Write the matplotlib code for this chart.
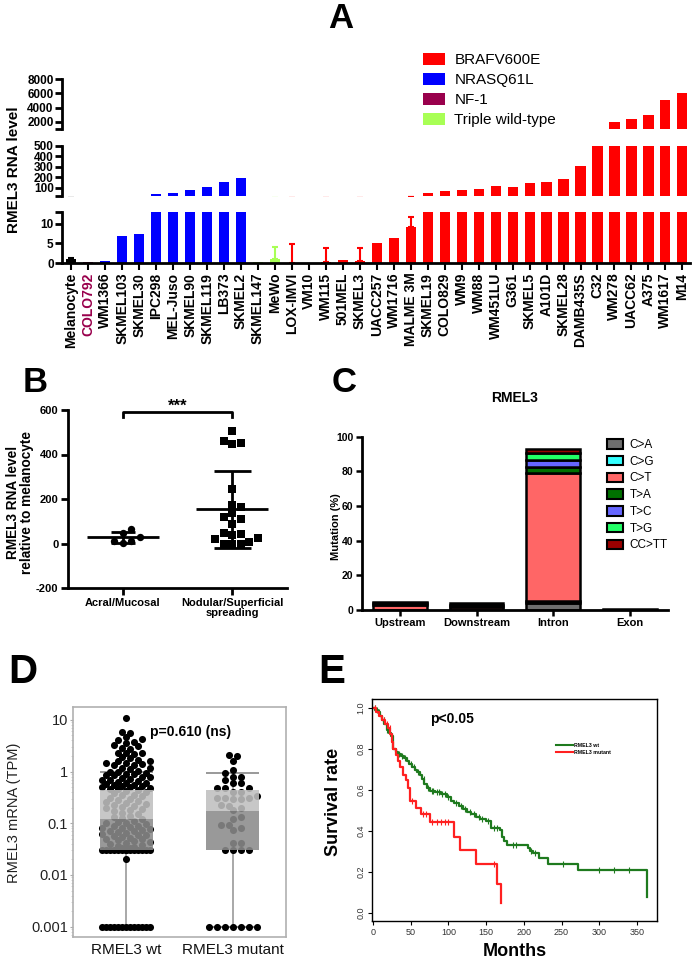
import matplotlib
matplotlib.use("Agg")
import matplotlib.pyplot as plt
import numpy as np
from matplotlib.patches import Patch
from matplotlib.lines import Line2D

plt.rcParams['font.family'] = ['Liberation Sans', 'DejaVu Sans']

# ---------------- data ----------------
# panel A: RMEL3 RNA level per cell line
cell_lines = ['Melanocyte', 'COLO792', 'WM1366', 'SKMEL103', 'SKMEL30', 'IPC298',
              'MEL-Juso', 'SKMEL90', 'SKMEL119', 'LB373', 'SKMEL2', 'SKMEL147',
              'MeWo', 'LOX-IMVI', 'VM10', 'WM115', '501MEL', 'SKMEL3', 'UACC257',
              'WM1716', 'MALME 3M', 'SKMEL19', 'COLO829', 'WM9', 'WM88', 'WM451LU',
              'G361', 'SKMEL5', 'A101D', 'SKMEL28', 'DAMB435S', 'C32', 'WM278',
              'UACC62', 'A375', 'WM1617', 'M14']
genotype = (['Melanocyte', 'NF-1'] + ['NRASQ61L'] * 9 + ['Triple wild-type'] * 2
            + ['BRAFV600E'] * 24)
rna_level = [1.0, 0.3, 0.4, 7.0, 7.3, 42, 46, 80, 110, 150, 190, 0.3,
             1.0, 0.05, 0.1, 0.3, 0.8, 0.5, 5.2, 6.4, 9.3, 46, 69, 81, 90, 113,
             103, 145, 150, 182, 312, 800, 2000, 2370, 2990, 5060, 6000]
rna_err = [0.3, 0, 0, 0, 0, 0, 0, 0, 0, 0, 0, 0,
           3.2, 4.7, 0, 3.5, 0, 3.4, 0, 0, 2.3, 0, 0, 0, 0, 0,
           0, 0, 0, 0, 0, 0, 0, 0, 0, 0, 0]
legend_groups = ['BRAFV600E', 'NRASQ61L', 'NF-1', 'Triple wild-type']
group_colors = {'Melanocyte': 'black', 'NF-1': '#99004c', 'NRASQ61L': '#0000ff',
                'Triple wild-type': '#a8ff55', 'BRAFV600E': '#ff0000'}

# panel B: relative RNA level by subtype
acral = [45, 66, 30, 10, 3, 10]
nodular = [506, 461, 446, 450, 247, 171, 164, 135, 108, 119, 89, 45, 36, 21,
           0, 0, 0, 6, 23, 44]
b_groups = ['Acral/Mucosal', 'Nodular/Superficial\nspreading']

# panel C: mutation spectrum (%)
regions = ['Upstream', 'Downstream', 'Intron', 'Exon']
mut_types = ['C>A', 'C>G', 'C>T', 'T>A', 'T>C', 'T>G', 'CC>TT']
mut_pct = {
    'C>A':   [0, 0, 4.0, 0.3],
    'C>G':   [0, 0, 1.2, 0],
    'C>T':   [3.0, 1.9, 73.8, 0],
    'T>A':   [0.9, 1.0, 3.4, 0],
    'T>C':   [0, 0, 4.4, 0],
    'T>G':   [0, 0, 3.9, 0],
    'CC>TT': [0.9, 0.9, 2.2, 0],
}
mut_colors = ['#6e6e6e', '#33ffff', '#ff6666', '#007000', '#6666ff', '#22ff66', '#990000']

# panel D: TPM expression
wt_tpm = [11.0, 5.7, 5.9, 4.6, 4.2, 4.0, 3.8, 3.6, 3.3, 3.1, 2.8, 2.7, 2.3, 2.3,
          2.25, 2.2, 1.9, 1.8, 1.7, 1.6, 1.6, 1.45, 1.45, 1.4, 1.35, 1.35, 1.2,
          1.15, 1.1, 1.05, 1.0, 1.0, 0.95, 0.9, 0.88, 0.85, 0.85, 0.8, 0.78, 0.75,
          0.72, 0.7, 0.68, 0.65, 0.63, 0.6, 0.6, 0.58, 0.55, 0.55, 0.53, 0.52, 0.5,
          0.5, 0.48, 0.47, 0.46, 0.44, 0.42, 0.4, 0.38, 0.36, 0.35, 0.33, 0.31,
          0.3, 0.28, 0.27, 0.26, 0.25, 0.24, 0.23, 0.22, 0.21, 0.2, 0.19, 0.18,
          0.17, 0.16, 0.15, 0.14, 0.13, 0.125, 0.12, 0.11, 0.105, 0.1, 0.1, 0.095,
          0.09, 0.088, 0.085, 0.08, 0.08, 0.078, 0.075, 0.07, 0.07, 0.068, 0.065,
          0.062, 0.06, 0.06, 0.058, 0.055, 0.052, 0.05, 0.05, 0.048, 0.046, 0.044,
          0.042, 0.04, 0.038, 0.036, 0.035, 0.034, 0.033, 0.032,
          0.03, 0.03, 0.03, 0.03, 0.03, 0.03, 0.03, 0.03, 0.03, 0.03, 0.03, 0.03,
          0.03, 0.03, 0.02,
          0.001, 0.001, 0.001, 0.001, 0.001, 0.001, 0.001, 0.001, 0.001, 0.001,
          0.001, 0.001, 0.001]
mut_tpm = [2.1, 2.0, 1.6, 1.07, 0.93, 0.8, 0.8, 0.69, 0.6, 0.6, 0.48, 0.48, 0.48,
           0.41, 0.41, 0.33, 0.31, 0.31, 0.31, 0.3, 0.3, 0.23, 0.22, 0.2, 0.18,
           0.13, 0.12, 0.091, 0.091, 0.081, 0.074, 0.041, 0.041,
           0.03, 0.03, 0.03, 0.03,
           0.001, 0.001, 0.001, 0.001, 0.001, 0.001, 0.001]
d_groups = ['RMEL3 wt', 'RMEL3 mutant']
box_q1 = [0.03, 0.03]
box_med = [0.12, 0.17]
box_q3 = [0.45, 0.45]
whisk_lo = [0.001, 0.001]
whisk_hi = [1.0, 0.92]

# panel E: Kaplan-Meier curves
wt_time = [0, 3, 6, 9, 12, 15, 18, 21, 24, 27, 30, 33, 37, 41, 45, 48, 52, 55,
           58, 62, 65, 68, 71, 75, 82, 90, 98, 103, 108, 114, 119, 124, 130, 136,
           142, 150, 156, 168, 171, 174, 178, 205, 208, 212, 220, 232, 272, 363]
wt_surv = [1.0, 0.99, 0.98, 0.96, 0.94, 0.92, 0.89, 0.875, 0.86, 0.80, 0.785,
           0.775, 0.765, 0.755, 0.74, 0.725, 0.71, 0.695, 0.685, 0.67, 0.65,
           0.625, 0.61, 0.595, 0.59, 0.58, 0.565, 0.545, 0.535, 0.52, 0.505,
           0.49, 0.48, 0.465, 0.455, 0.445, 0.415, 0.405, 0.37, 0.35, 0.33,
           0.315, 0.30, 0.29, 0.265, 0.24, 0.21, 0.075]
wt_censor = [2, 5, 8, 14, 19, 25, 31, 35, 39, 43, 50, 54, 60, 67, 73, 78, 80, 85,
             88, 92, 95, 100, 110, 117, 122, 128, 134, 140, 145, 152, 160, 165,
             185, 190, 210, 215, 252, 300, 320, 340]
mt_time = [0, 4, 8, 12, 16, 20, 23, 25, 27, 30, 33, 36, 40, 44, 47, 49, 57, 63,
           76, 107, 115, 136, 164, 170]
mt_surv = [1.0, 0.98, 0.96, 0.94, 0.92, 0.90, 0.87, 0.83, 0.80, 0.77, 0.74, 0.71,
           0.67, 0.645, 0.61, 0.545, 0.51, 0.48, 0.44, 0.37, 0.305, 0.24, 0.14, 0.05]
mt_censor = [3, 14, 19, 22, 52, 66, 70, 78, 85, 90, 95, 100, 160]

# ---------------- helpers ----------------
W, H = 695, 960
fig = plt.figure(figsize=(W / 100, H / 100), dpi=100)


def px_box(left, top, right, bottom):
    return [left / W, 1 - bottom / H, (right - left) / W, (bottom - top) / H]


def ftext(x, y, s, **kw):
    kw.setdefault('ha', 'center')
    kw.setdefault('va', 'center')
    fig.text(x / W, 1 - y / H, s, **kw)


def swarm_x(ax, center, vals, step_px, min_px, max_half_px):
    # simple bee-swarm: place points bottom-up at the first free offset
    vals = np.asarray(vals, float)
    ypx = ax.transData.transform(np.column_stack([np.full(len(vals), center), vals]))[:, 1]
    unit = ax.transData.transform([[1, 1]])[0, 0] - ax.transData.transform([[0, 1]])[0, 0]
    cands = [0.0]
    for k in range(1, int(max_half_px // step_px) + 1):
        cands += [k * step_px, -k * step_px]
    px_x, px_y = [], []
    offs = np.zeros(len(vals))
    for i in np.argsort(ypx, kind='stable'):
        best_c, best_d = 0.0, -1.0
        for c in cands:
            if px_x:
                d = np.min(np.hypot(np.array(px_x) - c, np.array(px_y) - ypx[i]))
            else:
                d = np.inf
            if d >= min_px:
                best_c = c
                break
            if d > best_d:
                best_d, best_c = d, c
        offs[i] = best_c
        px_x.append(best_c)
        px_y.append(ypx[i])
    return center + offs / unit


def clean_axes(ax, lw=2.0):
    ax.spines['top'].set_visible(False)
    ax.spines['right'].set_visible(False)
    ax.spines['left'].set_linewidth(lw)
    ax.spines['bottom'].set_linewidth(lw)


# ---------------- panel A ----------------
xa = np.arange(len(cell_lines))
bar_colors = [group_colors[g] for g in genotype]
segments = [((79, 129), (1000, 8000), [1000, 2000, 4000, 6000, 8000], ['', '2000', '4000', '6000', '8000']),
            ((146, 196), (20, 500), [20, 100, 200, 300, 400, 500], ['', '100', '200', '300', '400', '500']),
            ((212, 263), (0, 13), [0, 5, 10, 13], ['0', '5', '10', ''])]
for k, ((top, bot), ylim, ticks, labels) in enumerate(segments):
    ax = fig.add_axes(px_box(62, top, 690, bot))
    ax.bar(xa, rna_level, width=0.6, color=bar_colors)
    for xi, v, e, c in zip(xa, rna_level, rna_err, bar_colors):
        if e > 0:
            ax.errorbar(xi, v, yerr=[[0], [e]], fmt='none', ecolor=c,
                        elinewidth=1.5, capsize=2.5, capthick=1.5)
    ax.set_xlim(-0.55, 36.45)
    ax.set_ylim(ylim)
    ax.set_yticks(ticks)
    ax.set_yticklabels(labels, fontsize=8.5, fontweight='bold')
    clean_axes(ax)
    ax.tick_params(axis='y', width=2, length=5, pad=1)
    if k < 2:
        ax.spines['bottom'].set_visible(False)
        ax.set_xticks([])
    else:
        ax.set_xticks(xa)
        ax.set_xticklabels(cell_lines, rotation=90, fontsize=10, fontweight='bold')
        ax.tick_params(axis='x', width=1.5, length=5, pad=2)
        for lab, g in zip(ax.get_xticklabels(), genotype):
            if g == 'NF-1':
                lab.set_color(group_colors['NF-1'])

fig.legend([Patch(facecolor=group_colors[g]) for g in legend_groups], legend_groups,
           loc='upper left', bbox_to_anchor=(423 / W, 1 - 53 / H), frameon=False,
           fontsize=11, handlelength=1.45, handleheight=0.85, labelspacing=0.36,
           handletextpad=0.6, borderpad=0, borderaxespad=0)
ftext(14, 170, 'RMEL3 RNA level', rotation=90, fontsize=11, fontweight='bold')
ftext(341, 18, 'A', fontsize=25, fontweight='bold')

# ---------------- panel B ----------------
axb = fig.add_axes(px_box(68, 410, 287, 588))
axb.set_xlim(-0.5, 1.5)
axb.set_ylim(-200, 600)
clean_axes(axb)
cap_half = [0.11, 0.17]
for pos, vals, mk in [(0, acral, 'o'), (1, nodular, 's')]:
    xs = swarm_x(axb, pos, vals, 8.5, 8.0, 40)
    axb.scatter(xs, vals, marker=mk, s=28, color='black', zorder=3, linewidths=0)
    m, sd = np.mean(vals), np.std(vals, ddof=1)
    axb.hlines(m, pos - 0.33, pos + 0.33, color='black', lw=2, zorder=2)
    axb.vlines(pos, m - sd, m + sd, color='black', lw=2, zorder=2)
    axb.hlines([m - sd, m + sd], pos - cap_half[pos], pos + cap_half[pos],
               color='black', lw=2, zorder=2)
axb.plot([0, 0, 1, 1], [568, 592, 592, 568], color='black', lw=2, clip_on=False)
axb.text(0.5, 615, '***', ha='center', va='center', fontsize=12, fontweight='bold')
axb.set_yticks([-200, 0, 200, 400, 600])
axb.set_yticklabels(['-200', '0', '200', '400', '600'], fontsize=8, fontweight='bold')
axb.set_xticks([0, 1])
axb.set_xticklabels(b_groups, fontsize=8, fontweight='bold', linespacing=1.0)
axb.tick_params(width=2, length=5, pad=2)
ftext(20, 502, 'RMEL3 RNA level\nrelative to melanocyte', rotation=90, fontsize=9.8,
      fontweight='bold', linespacing=1.0)
ftext(35, 383, 'B', fontsize=25, fontweight='bold')

# ---------------- panel C ----------------
axc = fig.add_axes(px_box(361.7, 436.7, 668, 610))
xc = np.arange(len(regions))
bottom = np.zeros(len(regions))
for mt, col in zip(mut_types, mut_colors):
    v = np.array(mut_pct[mt], float)
    nz = v > 0
    axc.bar(xc[nz], v[nz], width=0.7, bottom=bottom[nz], color=col,
            edgecolor='black', linewidth=1.8)
    bottom += v
axc.set_xlim(-0.5, 3.5)
axc.set_ylim(0, 100)
clean_axes(axc)
axc.set_yticks([0, 20, 40, 60, 80, 100])
axc.set_yticklabels(['0', '20', '40', '60', '80', '100'], fontsize=7.5, fontweight='bold')
axc.set_xticks(xc)
axc.set_xticklabels(regions, fontsize=8, fontweight='bold')
axc.tick_params(width=1.8, length=4, pad=2)
axc.legend([Patch(facecolor=c, edgecolor='black', linewidth=1.5) for c in mut_colors],
           mut_types, loc='upper left', bbox_to_anchor=(607 / W, 1 - 439 / H),
           bbox_transform=fig.transFigure, frameon=False, fontsize=8.5,
           handlelength=1.32, handleheight=0.85, labelspacing=0.4,
           handletextpad=0.6, borderpad=0, borderaxespad=0)
ftext(515, 398, 'RMEL3', fontsize=10, fontweight='bold')
ftext(336, 527, 'Mutation (%)', rotation=90, fontsize=8, fontweight='bold')
ftext(344, 383, 'C', fontsize=25, fontweight='bold')

# ---------------- panel D ----------------
axd = fig.add_axes(px_box(73, 707, 286, 937))
axd.set_yscale('log')
axd.set_ylim(10 ** -3.2, 10 ** 1.25)
axd.set_xlim(-0.5, 1.5)
for pos, vals in [(0, wt_tpm), (1, mut_tpm)]:
    xs = swarm_x(axd, pos, vals, 4.0, 5.5, 24)
    axd.scatter(xs, vals, s=26, color='black', linewidths=0, zorder=2)
pos_d = np.arange(2)
axd.vlines(pos_d, whisk_lo, box_q1, color='#999999', lw=1.2, zorder=1)
axd.vlines(pos_d, box_q3, whisk_hi, color='#999999', lw=1.2, zorder=1)
axd.hlines(whisk_lo, pos_d - 0.25, pos_d + 0.25, color='#666666', lw=1.2, zorder=1)
axd.hlines(whisk_hi, pos_d - 0.25, pos_d + 0.25, color='#888888', lw=1.2, zorder=1)
axd.bar(pos_d, np.array(box_med) - np.array(box_q1), width=0.5, bottom=box_q1,
        color='#8b8b8b', alpha=0.88, zorder=3)
axd.bar(pos_d, np.array(box_q3) - np.array(box_med), width=0.5, bottom=box_med,
        color='#c0c0c0', alpha=0.88, zorder=3)
for s in axd.spines.values():
    s.set_color('#b0b0b0')
    s.set_linewidth(1.2)
axd.set_yticks([0.001, 0.01, 0.1, 1, 10])
axd.set_yticklabels(['0.001', '0.01', '0.1', '1', '10'], fontsize=10.5, color='#222222')
axd.tick_params(axis='y', which='major', length=2.5, color='#aaaaaa', pad=1)
axd.tick_params(axis='y', which='minor', length=1.2, color='#cccccc')
axd.set_xticks(pos_d)
axd.set_xticklabels(d_groups, fontsize=11, color='#111111')
axd.tick_params(axis='x', length=0, pad=4)
fig.text(191 / W, 1 - 732 / H, 'p=0.610 (ns)', ha='center', va='center',
         fontsize=10, fontweight='bold')
ftext(14, 813, 'RMEL3 mRNA (TPM)', rotation=90, fontsize=10.5, color='#222222')
ftext(23, 672, 'D', fontsize=29, fontweight='bold')

# ---------------- panel E ----------------
axe = fig.add_axes(px_box(372.3, 699.3, 657.3, 921))
axe.set_xlim(-1, 377)
axe.set_ylim(-0.04, 1.04)
green, red = '#1e7a1e', '#ff2020'
for t, s, cen, col in [(wt_time, wt_surv, wt_censor, green), (mt_time, mt_surv, mt_censor, red)]:
    axe.step(t, s, where='post', color=col, lw=1.6)
    idx = np.searchsorted(t, cen, side='right') - 1
    axe.plot(cen, np.array(s)[idx], ls='none', marker='|', ms=4, mew=0.8, color=col)
axe.set_xticks(np.arange(0, 351, 50))
axe.set_yticks([0.0, 0.2, 0.4, 0.6, 0.8, 1.0])
axe.set_yticklabels(['0.0', '0.2', '0.4', '0.6', '0.8', '1.0'], rotation=90, va='center')
axe.tick_params(labelsize=6.5, labelcolor='#333333', length=3, width=0.8, pad=2)
for s in axe.spines.values():
    s.set_linewidth(1.0)
axe.legend([Line2D([], [], color=green, lw=1.5), Line2D([], [], color=red, lw=1.5)],
           ['RMEL3 wt', 'RMEL3 mutant'], loc='upper left',
           bbox_to_anchor=(556 / W, 1 - 743 / H), bbox_transform=fig.transFigure,
           frameon=False, prop={'size': 3.8, 'weight': 'bold'}, handlelength=3.2,
           labelspacing=0.3, handletextpad=0.3, borderpad=0, borderaxespad=0)
fig.text(452 / W, 1 - 719 / H, 'p<0.05', ha='center', va='center', fontsize=10,
         fontweight='bold')
ftext(515, 951, 'Months', fontsize=13, fontweight='bold')
ftext(334, 802, 'Survival rate', rotation=90, fontsize=13, fontweight='bold')
ftext(332, 672, 'E', fontsize=29, fontweight='bold')

fig.savefig('out.png', dpi=100)
